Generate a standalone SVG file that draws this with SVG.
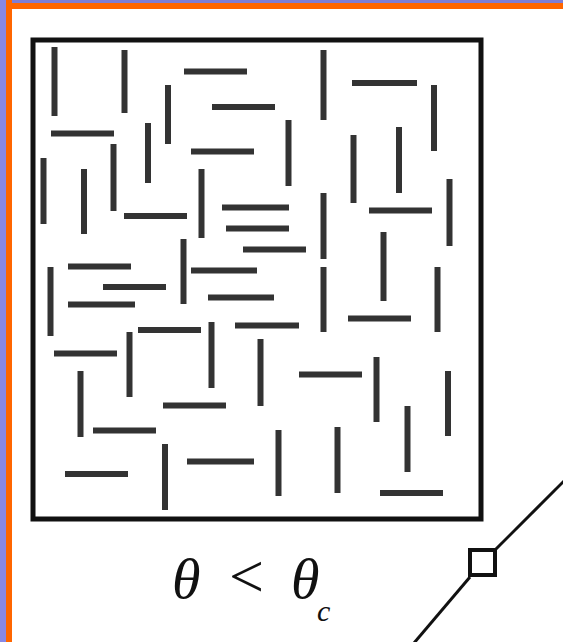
<svg xmlns="http://www.w3.org/2000/svg" width="563" height="642" viewBox="0 0 563 642">
<style>
.s{stroke:#333;stroke-width:6;fill:none}
.box{stroke:#111;stroke-width:5;fill:none}
.t{font-family:"Liberation Serif","Times New Roman",serif;font-style:italic;fill:#111}
.d{stroke:#111;stroke-width:3;fill:none}
</style>
<rect x="0" y="0" width="563" height="642" fill="#fff"/>
<rect x="0" y="0" width="563" height="9" fill="#ff6600"/>
<rect x="0" y="0" width="563" height="3" fill="#7e7ed6"/>
<rect x="0" y="0" width="12" height="642" fill="#ff6600"/>
<rect x="0" y="0" width="6" height="642" fill="#8888e6"/>
<g id="box">
<rect class="box" x="33" y="40" width="448" height="479"/>
</g>
<g id="segments">
<line class="s" x1="54.5" y1="47" x2="54.5" y2="116"/>
<line class="s" x1="124.5" y1="50" x2="124.5" y2="113"/>
<line class="s" x1="184" y1="71.5" x2="247" y2="71.5"/>
<line class="s" x1="168" y1="85" x2="168" y2="144"/>
<line class="s" x1="212" y1="107" x2="275" y2="107"/>
<line class="s" x1="51" y1="133.5" x2="114" y2="133.5"/>
<line class="s" x1="148" y1="123" x2="148" y2="183"/>
<line class="s" x1="191" y1="151.5" x2="254" y2="151.5"/>
<line class="s" x1="113.5" y1="144" x2="113.5" y2="211"/>
<line class="s" x1="43.5" y1="158" x2="43.5" y2="224"/>
<line class="s" x1="84" y1="169" x2="84" y2="234"/>
<line class="s" x1="201.5" y1="169" x2="201.5" y2="238"/>
<line class="s" x1="323.5" y1="50" x2="323.5" y2="120"/>
<line class="s" x1="352" y1="83" x2="417" y2="83"/>
<line class="s" x1="434" y1="85" x2="434" y2="151"/>
<line class="s" x1="288.5" y1="120" x2="288.5" y2="186"/>
<line class="s" x1="399" y1="127" x2="399" y2="193"/>
<line class="s" x1="353.5" y1="135" x2="353.5" y2="203"/>
<line class="s" x1="449.5" y1="179" x2="449.5" y2="246"/>
<line class="s" x1="323.5" y1="193" x2="323.5" y2="259"/>
<line class="s" x1="124" y1="216" x2="187" y2="216"/>
<line class="s" x1="222" y1="207.5" x2="289" y2="207.5"/>
<line class="s" x1="226" y1="228.5" x2="289" y2="228.5"/>
<line class="s" x1="183.5" y1="239" x2="183.5" y2="304"/>
<line class="s" x1="243" y1="249.5" x2="306" y2="249.5"/>
<line class="s" x1="68" y1="266.5" x2="131" y2="266.5"/>
<line class="s" x1="191" y1="270.5" x2="257" y2="270.5"/>
<line class="s" x1="50.5" y1="267" x2="50.5" y2="336"/>
<line class="s" x1="103" y1="287" x2="166" y2="287"/>
<line class="s" x1="208" y1="297.5" x2="274" y2="297.5"/>
<line class="s" x1="68" y1="304.5" x2="135" y2="304.5"/>
<line class="s" x1="138" y1="330" x2="201" y2="330"/>
<line class="s" x1="211.5" y1="322" x2="211.5" y2="388"/>
<line class="s" x1="235" y1="325.5" x2="299" y2="325.5"/>
<line class="s" x1="54" y1="353.5" x2="117" y2="353.5"/>
<line class="s" x1="129.5" y1="332" x2="129.5" y2="397"/>
<line class="s" x1="369" y1="210.5" x2="432" y2="210.5"/>
<line class="s" x1="383.5" y1="232" x2="383.5" y2="301"/>
<line class="s" x1="323.5" y1="267" x2="323.5" y2="332"/>
<line class="s" x1="437.5" y1="267" x2="437.5" y2="332"/>
<line class="s" x1="348" y1="318.5" x2="411" y2="318.5"/>
<line class="s" x1="260.5" y1="339" x2="260.5" y2="406"/>
<line class="s" x1="376.5" y1="357" x2="376.5" y2="422"/>
<line class="s" x1="80.5" y1="371" x2="80.5" y2="437"/>
<line class="s" x1="163" y1="405.5" x2="226" y2="405.5"/>
<line class="s" x1="93" y1="430.5" x2="156" y2="430.5"/>
<line class="s" x1="165" y1="444" x2="165" y2="510"/>
<line class="s" x1="187" y1="461.5" x2="254" y2="461.5"/>
<line class="s" x1="65" y1="474" x2="128" y2="474"/>
<line class="s" x1="299" y1="374.5" x2="362" y2="374.5"/>
<line class="s" x1="448" y1="371" x2="448" y2="436"/>
<line class="s" x1="407.5" y1="406" x2="407.5" y2="472"/>
<line class="s" x1="278.5" y1="430" x2="278.5" y2="496"/>
<line class="s" x1="337.5" y1="427" x2="337.5" y2="493"/>
<line class="s" x1="380" y1="493" x2="443" y2="493"/>
</g>
<g id="label">
<text class="t" x="172" y="598" font-size="58">θ</text>
<text class="t" x="229" y="597" font-size="62" style="font-style:normal">&lt;</text>
<text class="t" x="291" y="598" font-size="58">θ</text>
<text class="t" x="317" y="621" font-size="30">c</text>
</g>
<g id="joint">
<line class="d" x1="495" y1="550" x2="565" y2="480"/>
<line class="d" x1="470" y1="577" x2="414" y2="643"/>
<rect x="470" y="550" width="25" height="25" fill="#fff" stroke="#111" stroke-width="4"/>
</g>
</svg>
